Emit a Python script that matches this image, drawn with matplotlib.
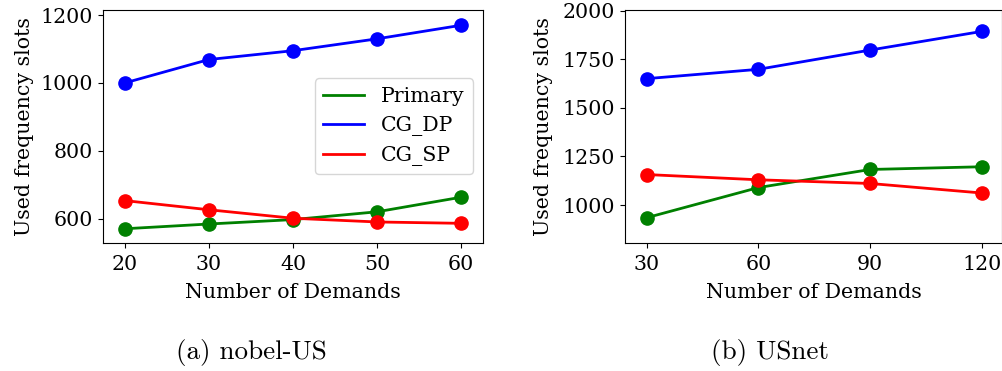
import matplotlib
matplotlib.use("Agg")
import matplotlib.pyplot as plt

# Data
demands_a = [20, 30, 40, 50, 60]
primary_a = [570, 584, 597, 620, 663]
cgdp_a = [1000, 1069, 1095, 1130, 1170]
cgsp_a = [653, 626, 601, 590, 586]

demands_b = [30, 60, 90, 120]
primary_b = [935, 1090, 1183, 1197]
cgdp_b = [1650, 1698, 1797, 1893]
cgsp_b = [1157, 1130, 1111, 1062]

series_names = ["Primary", "CG_DP", "CG_SP"]
colors = ["green", "blue", "red"]

W, H = 1003, 371
fig = plt.figure(figsize=(W / 100, H / 100), dpi=100)
plt.rcParams['font.family'] = ['DejaVu Serif']

FS = 14.8

def px(l, t, r, b):
    return [l / W, (H - b) / H, (r - l) / W, (b - t) / H]

ax1 = fig.add_axes(px(103, 10, 483, 243))
ax2 = fig.add_axes(px(625, 10, 1002, 243))

for ax, x, ys in [(ax1, demands_a, [primary_a, cgdp_a, cgsp_a]),
                  (ax2, demands_b, [primary_b, cgdp_b, cgsp_b])]:
    for name, c, y in zip(series_names, colors, ys):
        ax.plot(x, y, color=c, lw=2, label=name)
        ax.plot(x, y, color=c, lw=0, marker='o', ms=9.5)
    ax.set_xlabel("Number of Demands", fontsize=FS, labelpad=6.5)
    ax.set_ylabel("Used frequency slots", fontsize=FS, labelpad=5)
    ax.tick_params(labelsize=FS)
    ax.tick_params(axis='x', pad=5)

ax2.yaxis.labelpad = 7

ax1.set_xlim(17.4, 62.6)
ax1.set_ylim(528, 1215)
ax1.set_xticks(demands_a)
ax1.set_yticks([600, 800, 1000, 1200])
ax1.legend(loc='center right', fontsize=FS, handlelength=2.0)

ax2.set_xlim(24.2, 125.4)
ax2.set_ylim(805, 2003)
ax2.set_xticks(demands_b)
ax2.set_yticks([1000, 1250, 1500, 1750, 2000])

fig.text(251 / W, (H - 353) / H, "(a) nobel-US", ha='center', va='center',
         fontsize=19.5, family='cmr10')
fig.text(770 / W, (H - 353) / H, "(b) USnet", ha='center', va='center',
         fontsize=19.5, family='cmr10')

fig.savefig("out.png", dpi=100)
